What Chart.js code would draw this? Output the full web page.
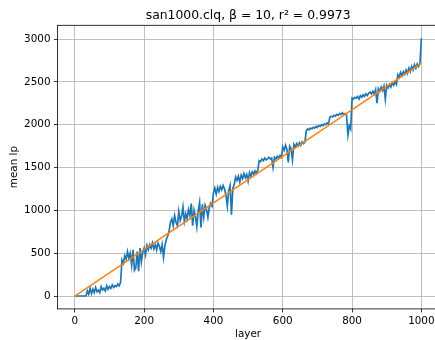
<!DOCTYPE html>
<html>
<head>
<meta charset="utf-8">
<script src="https://cdn.jsdelivr.net/npm/chart.js@4.4.0/dist/chart.umd.min.js"></script>
<style>
  html, body { margin: 0; padding: 0; background: #fff; overflow: hidden; }
  canvas { display: block; }
</style>
</head>
<body>
<canvas id="lpChart" width="445" height="340"></canvas>
<script>
// Werte (jede 4. Schicht)
const layerStep = 4;
const meanLp = [
  0, 0, 0, 0, 0, 0, 0, 0, 0,
  60, 20, 90, 30, 80, 40, 100, 50, 70, 40, 110, 70, 90, 60, 120, 80, 110, 90, 130, 100, 120, 110, 140, 120, 160,
  420, 380, 470, 430, 520, 440, 500, 360, 540, 300, 330, 520, 290, 560, 400, 510,
  560, 480, 590, 540, 600, 560, 620, 550, 600, 540, 620, 580, 520, 600, 450, 590,
  660, 700, 760, 860, 900, 820, 940, 860, 820, 990, 880, 930, 1040, 870, 960, 900, 1010, 940, 1080, 820,
  1000, 930, 810, 990, 1090, 800, 1070, 920, 1060, 1010, 920, 1030, 1080, 1050,
  1200, 1260, 1190, 1270, 1220, 1280, 1240, 1290, 1250, 1180, 1050, 1230, 1290, 950, 1260, 1300,
  1390, 1350, 1400, 1330, 1410, 1370, 1430, 1380, 1420, 1340, 1440, 1400, 1450, 1420, 1460, 1430, 1470,
  1580, 1570, 1600, 1580, 1610, 1590, 1600, 1620, 1600, 1610, 1500, 1620, 1600, 1630, 1610, 1640, 1620,
  1740, 1700, 1760, 1710, 1560, 1750, 1720, 1590, 1770, 1740, 1780, 1750, 1790, 1760, 1800, 1780, 1800,
  1930, 1950, 1940, 1960, 1950, 1970, 1960, 1980, 1970, 1990, 1980, 2000, 1990, 2010, 2000, 2020, 2010,
  2090, 2100, 2090, 2110, 2100, 2120, 2110, 2130, 2120, 2140, 2120, 2130, 2110, 1880, 1990, 1950,
  2310, 2300, 2320, 2310, 2330, 2300, 2340, 2320, 2350, 2330, 2360, 2340, 2370, 2380, 2360, 2390, 2360,
  2410, 2250, 2420, 2390, 2440, 2400, 2450, 2300, 2460, 2430, 2470, 2440, 2490, 2460, 2500, 2470,
  2580, 2550, 2610, 2570, 2620, 2590, 2640, 2600, 2660, 2620, 2680, 2640, 2700, 2660, 2710, 2680, 2720,
  3010
];

// Regressionsgerade
const fitLayers = [0, 1000];
const fitValues = [0, 2720];

const xTicks = [0, 200, 400, 600, 800, 1000];
const yTicks = [0, 500, 1000, 1500, 2000, 2500, 3000];

const titleText = 'san1000.clq, \u03B2 = 10, r\u00B2 = 0.9973';
const fontFamily = "'DejaVu Sans', sans-serif";

// Rahmen und Titel wie bei matplotlib
const framePlugin = {
  id: 'frame',
  afterDatasetsDraw(chart) {
    const a = chart.chartArea;
    const ctx = chart.ctx;
    ctx.save();
    ctx.strokeStyle = '#000';
    ctx.lineWidth = 0.8;
    ctx.strokeRect(a.left, a.top, a.right - a.left, a.bottom - a.top);
    ctx.restore();
  },
  afterDraw(chart) {
    const a = chart.chartArea;
    const ctx = chart.ctx;
    ctx.save();
    ctx.fillStyle = '#000';
    ctx.font = '12.4px ' + fontFamily;
    ctx.textAlign = 'center';
    ctx.textBaseline = 'alphabetic';
    ctx.fillText(titleText, (a.left + a.right) / 2, 18.5);
    ctx.restore();
  }
};

const tickFont = { family: fontFamily, size: 10.4 };

new Chart(document.getElementById('lpChart').getContext('2d'), {
  type: 'line',
  data: {
    datasets: [
      {
        data: fitLayers.map((x, i) => ({ x: x, y: fitValues[i] })),
        borderColor: '#ff7f0e',
        borderWidth: 1.5,
        pointRadius: 0,
        fill: false,
        order: 0
      },
      {
        data: meanLp.map((v, i) => ({ x: i * layerStep, y: v })),
        borderColor: '#1f77b4',
        borderWidth: 1.7,
        pointRadius: 0,
        fill: false,
        tension: 0,
        order: 1
      }
    ]
  },
  options: {
    responsive: false,
    animation: false,
    devicePixelRatio: 1,
    layout: { padding: { top: 25.3, right: 6.3, left: 0, bottom: 0 } },
    plugins: {
      legend: { display: false },
      tooltip: { enabled: false },
      title: { display: false }
    },
    scales: {
      x: {
        type: 'linear',
        min: -50,
        max: 1050,
        afterBuildTicks: scale => { scale.ticks = xTicks.map(v => ({ value: v })); },
        afterFit: scale => { scale.height = 31.1; },
        ticks: { color: '#000', font: tickFont, padding: 3, maxRotation: 0, callback: v => String(v) },
        grid: { color: '#b0b0b0', lineWidth: 0.8, tickColor: '#000', tickLength: 3.5, tickWidth: 0.8 },
        border: { display: false },
        title: { display: true, text: 'layer', color: '#000', font: tickFont, padding: { top: 0, bottom: -1 } }
      },
      y: {
        type: 'linear',
        min: -150.5,
        max: 3160.5,
        afterBuildTicks: scale => { scale.ticks = yTicks.map(v => ({ value: v })); },
        afterFit: scale => { scale.width = 57.5; },
        ticks: { color: '#000', font: tickFont, padding: 3.5, callback: v => String(v) },
        grid: { color: '#b0b0b0', lineWidth: 0.8, tickColor: '#000', tickLength: 3.5, tickWidth: 0.8 },
        border: { display: false },
        title: { display: true, text: 'mean lp', color: '#000', font: tickFont, padding: { top: 8, bottom: 0 } }
      }
    }
  },
  plugins: [framePlugin]
});
</script>
</body>
</html>
